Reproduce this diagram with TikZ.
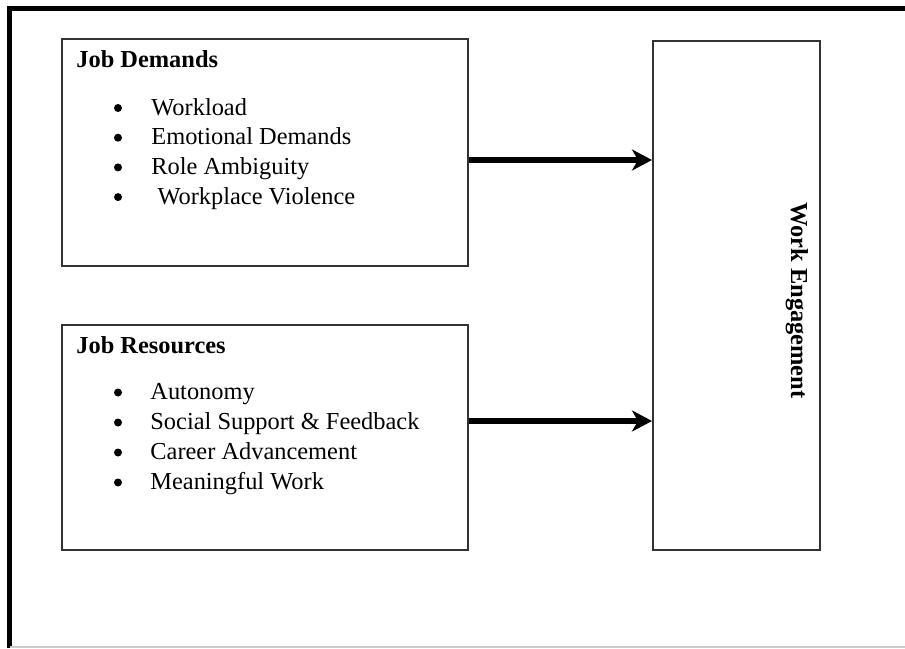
\documentclass[tikz,border=0pt]{standalone}
\usepackage{fontspec}
\setmainfont{Liberation Serif}
\usetikzlibrary{arrows.meta,positioning}
\colorlet{boxgray}{black!80}
\newcommand{\txtsize}{\fontsize{12.2}{14}\selectfont}
\tikzset{
    box/.style={draw=boxgray,line width=0.75pt,rectangle,inner sep=0pt},
    title/.style={anchor=base west,inner sep=0pt,font=\txtsize\bfseries},
    item/.style={anchor=base west,inner sep=0pt},
    dot/.style={circle,fill,inner sep=0pt,minimum size=4pt},
    link/.style={line width=2.8pt,-{Stealth[length=10pt,width=10.5pt,inset=3pt]}}
}
\begin{document}
\begin{tikzpicture}[x=0.5pt,y=-0.5pt,font=\txtsize]
\useasboundingbox (0,0) rectangle (905,648);
% outer frame
\draw[line width=2.4pt] (9.8,648) -- (9.8,8.4) -- (905,8.4);
\draw[black!20,line width=1pt] (9.8,647) -- (905,647);
% boxes
\node[box,anchor=north west,minimum width=203pt,minimum height=113.5pt] (demands) at (61,38) {};
\node[box,anchor=north west,minimum width=203pt,minimum height=112.5pt] (resources) at (61,324) {};
\node[box,anchor=north west,minimum width=83.5pt,minimum height=254.5pt] (engagement) at (652,40) {};
% texts
\node[title] (demandsTitle) at (76,68) {Job Demands};
\foreach [count=\i] \txt in {Workload,Emotional Demands,Role Ambiguity,\ Workplace Violence}{
    \node[dot] (dBullet\i) at (118,{108+29.7*(\i-1)}) {};
    \node[item] (dItem\i) at (151,{115+29.7*(\i-1)}) {\txt};
}
\node[title] (resourcesTitle) at (76,353) {Job Resources};
\foreach [count=\i] \txt in {Autonomy,Social Support \& Feedback,Career Advancement,Meaningful Work}{
    \node[dot] (rBullet\i) at (118,{392.5+30*(\i-1)}) {};
    \node[item] (rItem\i) at (150,{399.5+30*(\i-1)}) {\txt};
}
\node[font=\txtsize\bfseries,rotate=-90,inner sep=0pt] (engagementText) at (797,300.5) {Work Engagement};
% arrows
\coordinate (demandsOut) at (demands.east |- 0,160);
\coordinate (resourcesOut) at (resources.east |- 0,421);
\draw[link] (demandsOut) -- (demandsOut -| engagement.west);
\draw[link] (resourcesOut) -- (resourcesOut -| engagement.west);
\end{tikzpicture}
\end{document}
